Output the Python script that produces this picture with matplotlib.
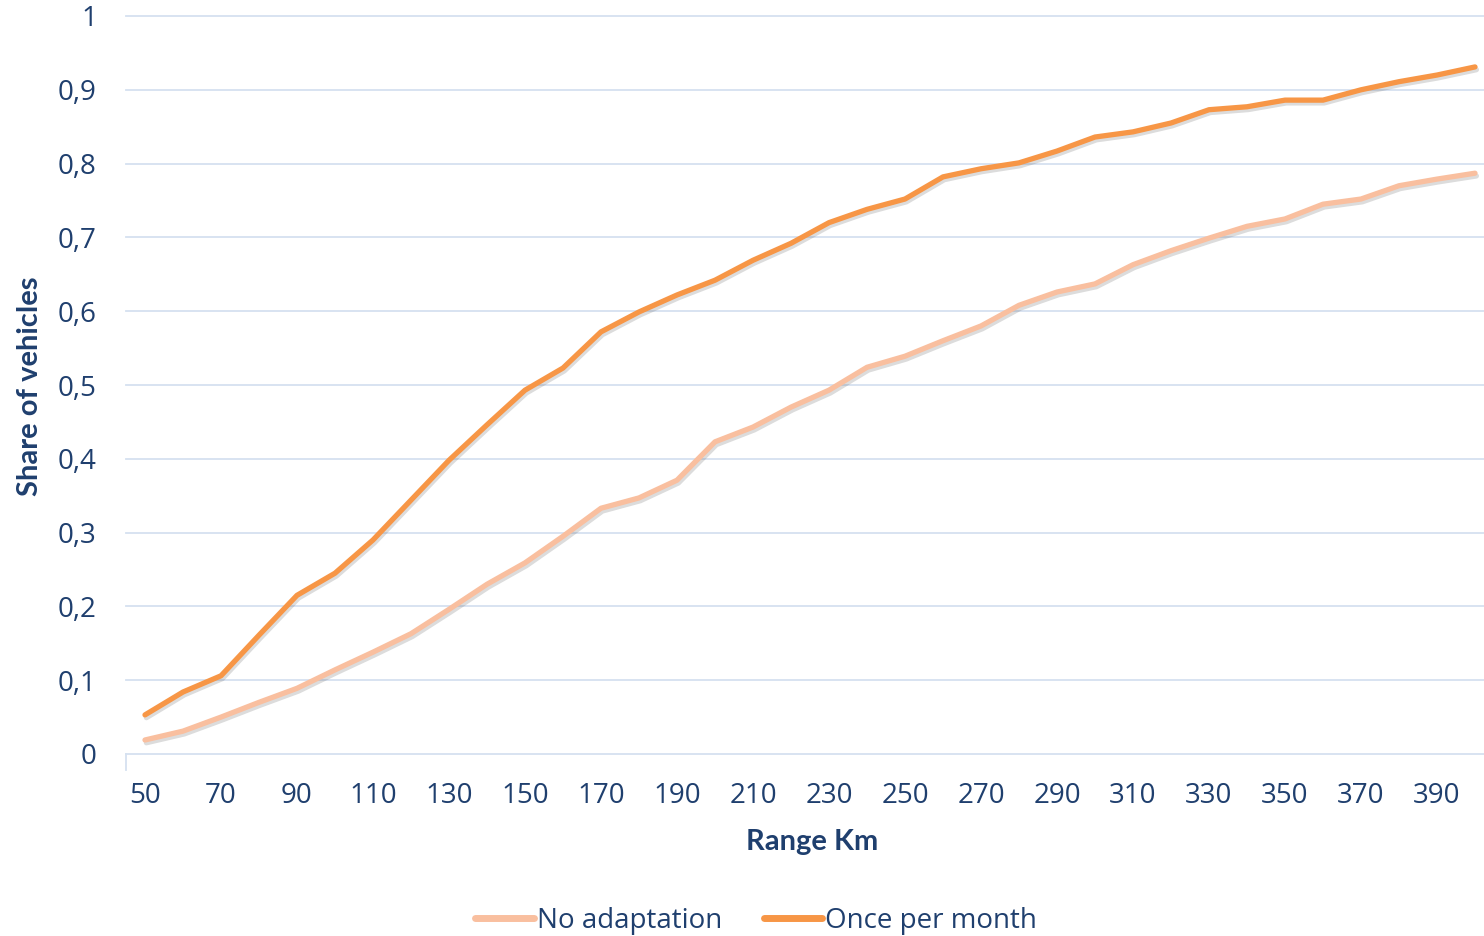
import matplotlib.pyplot as plt
import matplotlib.patheffects as pe

# ranges (km) and share of vehicles for each strategy
ranges = list(range(50, 410, 10))
no_adaptation = [0.019, 0.031, 0.050, 0.070, 0.089, 0.114, 0.138, 0.163, 0.196, 0.230,
                 0.259, 0.295, 0.333, 0.347, 0.371, 0.423, 0.443, 0.470, 0.493, 0.524,
                 0.539, 0.560, 0.580, 0.608, 0.626, 0.637, 0.663, 0.682, 0.699, 0.715,
                 0.725, 0.745, 0.752, 0.770, 0.779, 0.787]
once_per_month = [0.053, 0.084, 0.106, 0.161, 0.215, 0.245, 0.290, 0.344, 0.398, 0.446,
                  0.493, 0.523, 0.572, 0.599, 0.622, 0.642, 0.669, 0.692, 0.720, 0.738,
                  0.752, 0.782, 0.793, 0.801, 0.817, 0.836, 0.843, 0.855, 0.873, 0.877,
                  0.886, 0.886, 0.900, 0.911, 0.920, 0.931]
y_ticks = [0, 0.1, 0.2, 0.3, 0.4, 0.5, 0.6, 0.7, 0.8, 0.9, 1]
y_labels = ['0', '0,1', '0,2', '0,3', '0,4', '0,5', '0,6', '0,7', '0,8', '0,9', '1']

txt = '#1F3F6E'
grid_c = '#D5E1F0'

fig = plt.figure(figsize=(14.84, 9.36), dpi=100)
ax = fig.add_axes([126 / 1484, 1 - 754 / 936, 1 - 126 / 1484, (754 - 16) / 936])

xs = list(range(len(ranges)))
shadow = [pe.SimpleLineShadow(offset=(1, -2), shadow_color='#606060', alpha=0.22), pe.Normal()]
ax.plot(xs, no_adaptation, color='#F9BF9F', lw=3.8, solid_capstyle='round',
        path_effects=shadow, label='No adaptation')
ax.plot(xs, once_per_month, color='#F79646', lw=3.8, solid_capstyle='round',
        path_effects=shadow, label='Once per month')

ax.set_xlim(-0.5, (1484 - 145) / 38)
ax.set_ylim(0, 1)
for v in y_ticks[1:]:
    ax.axhline(v, color=grid_c, lw=1.3, zorder=0, clip_on=False)

for s in ['top', 'right', 'left']:
    ax.spines[s].set_visible(False)
ax.spines['bottom'].set_color(grid_c)
ax.spines['bottom'].set_linewidth(1.3)

ax.set_yticks(y_ticks)
ax.set_yticklabels(y_labels)
ax.tick_params(axis='y', length=0, pad=21, labelsize=20, labelcolor=txt)
ax.set_xticks(xs[::2])
ax.set_xticklabels([str(r) for r in ranges[::2]])
ax.tick_params(axis='x', length=0, pad=20, labelsize=20, labelcolor=txt)
ax.plot([-0.5, -0.5], [0, -0.022], color=grid_c, lw=1.3, clip_on=False)
for lab in ax.get_xticklabels() + ax.get_yticklabels():
    lab.set_family('Open Sans')

fig.text(812 / 1484, 1 - 842 / 936, 'Range Km', ha='center', va='center',
         fontsize=21, fontweight='bold', color=txt, family='Lato')
fig.text(30 / 1484, 1 - 386 / 936, 'Share of vehicles', ha='center', va='center',
         rotation=90, fontsize=21, fontweight='bold', color=txt, family='Lato')

leg = fig.legend(loc='center', bbox_to_anchor=(756 / 1484, 1 - 921 / 936), ncol=2,
                 frameon=False, prop={'family': 'Open Sans', 'size': 20},
                 handlelength=2.1, handletextpad=0.1, columnspacing=1.5)
for t in leg.get_texts():
    t.set_color(txt)
for h in leg.legend_handles:
    h.set_path_effects([])
    h.set_linewidth(5)

fig.savefig('out.png', dpi=100)
